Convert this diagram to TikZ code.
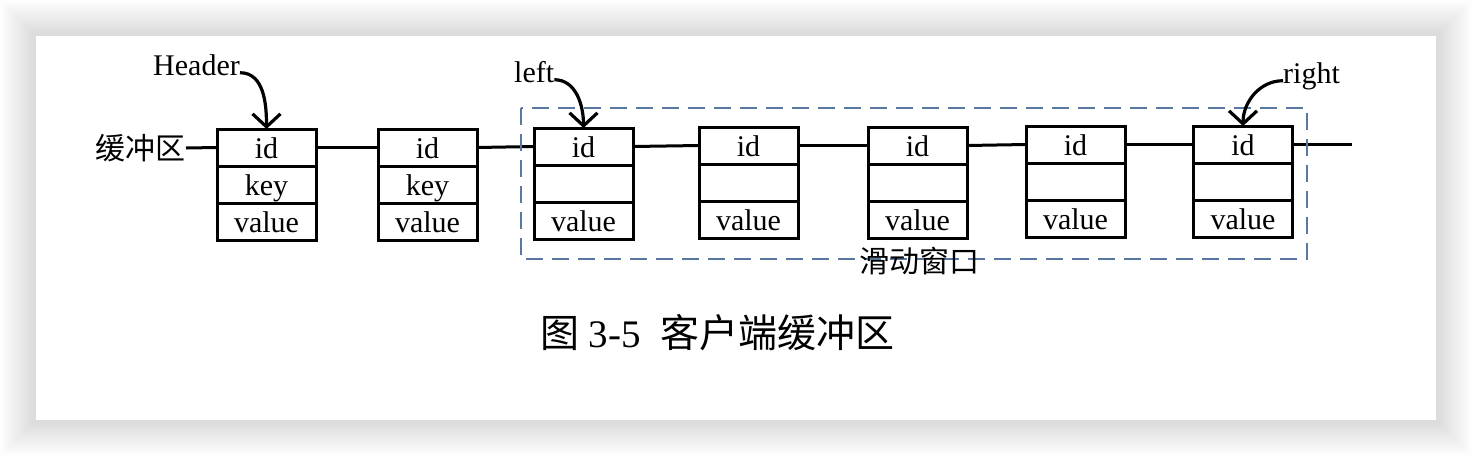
\documentclass[tikz,border=0pt]{standalone}
\usepackage{fontspec}
\setmainfont{Liberation Serif}
\newfontfamily\cjk{Noto Sans CJK SC}
\usepackage{xcolor}
\definecolor{winBlue}{RGB}{88,120,162}
\usepackage{tikz}
\usetikzlibrary{arrows.meta, positioning}
\newcommand{\labfont}{\fontsize{30}{34}\selectfont}
\newcommand{\capfont}{\fontsize{39}{44}\selectfont}

\begin{document}
\begin{tikzpicture}[x=1pt, y=-1pt, every node/.style={inner sep=0pt},
	cell/.style={draw, line width=3pt, outer sep=0pt, minimum width=99pt, minimum height=37pt,
		text height=23pt, text depth=2pt, font=\labfont},
	link/.style={line width=3pt},
	ptr/.style={line width=3.2pt, -{Straight Barb[length=13pt, width=28pt, line width=3.2pt]}}]
	% page with a soft shadow
	\fill[white] (0, 0) rectangle (1472, 456);
	\foreach \s in {36,34,...,2}
		\fill[black, opacity=0.009] (36-\s, 36-\s) rectangle (1436+\s, 420+\s);
	\fill[white] (36, 36) rectangle (1436, 420);

	% buffer entries
	\foreach \n/\x/\y/\k in {1/266.5/129/key, 2/427.5/129/key, 3/583.5/128/{}, 4/748.5/127/{},
		5/917.5/127/{}, 6/1075.5/126/{}, 7/1243/126/{}}{
		\node[cell, anchor=north] (id\n) at (\x, \y) {id};
		\node[cell, below=0pt of id\n] (key\n) {\k};
		\node[cell, below=0pt of key\n] (val\n) {value};
	}

	% chain
	\node[anchor=east, font=\labfont] (buf) at (186, 148) {\cjk 缓冲区};
	\coordinate (tail) at (1352, 144.5);
	\draw[link] (buf.east) -- (id1.west);
	\foreach \a/\b in {1/2, 2/3, 3/4, 4/5, 5/6, 6/7}
		\draw[link] (id\a.east) -- (id\b.west);
	\draw[link] (id7.east) -- (tail);

	% sliding window
	\draw[winBlue, line width=2.4pt, dash pattern=on 17pt off 9pt] (521, 108) rectangle (1307, 259);
	\node[font=\labfont] (win) at (919, 261) {\cjk 滑动窗口};

	% pointers
	\node[anchor=base east, font=\labfont] (hdr) at (240, 75) {Header};
	\node[anchor=base west, font=\labfont] (lft) at (514, 82) {left};
	\node[anchor=base west, font=\labfont] (rgt) at (1283, 83) {right};
	\draw[ptr] (hdr.mid east) to[out=0, in=90] (id1.north);
	\draw[ptr] (lft.mid east) to[out=0, in=90] (id3.north);
	\draw[ptr] (rgt.mid west) to[out=180, in=90] (id7.north);

	% caption
	\node[anchor=west, font=\capfont] (cap) at (540, 333) {{\cjk 图} 3-5\ \ {\cjk 客户端缓冲区}};
\end{tikzpicture}
\end{document}
